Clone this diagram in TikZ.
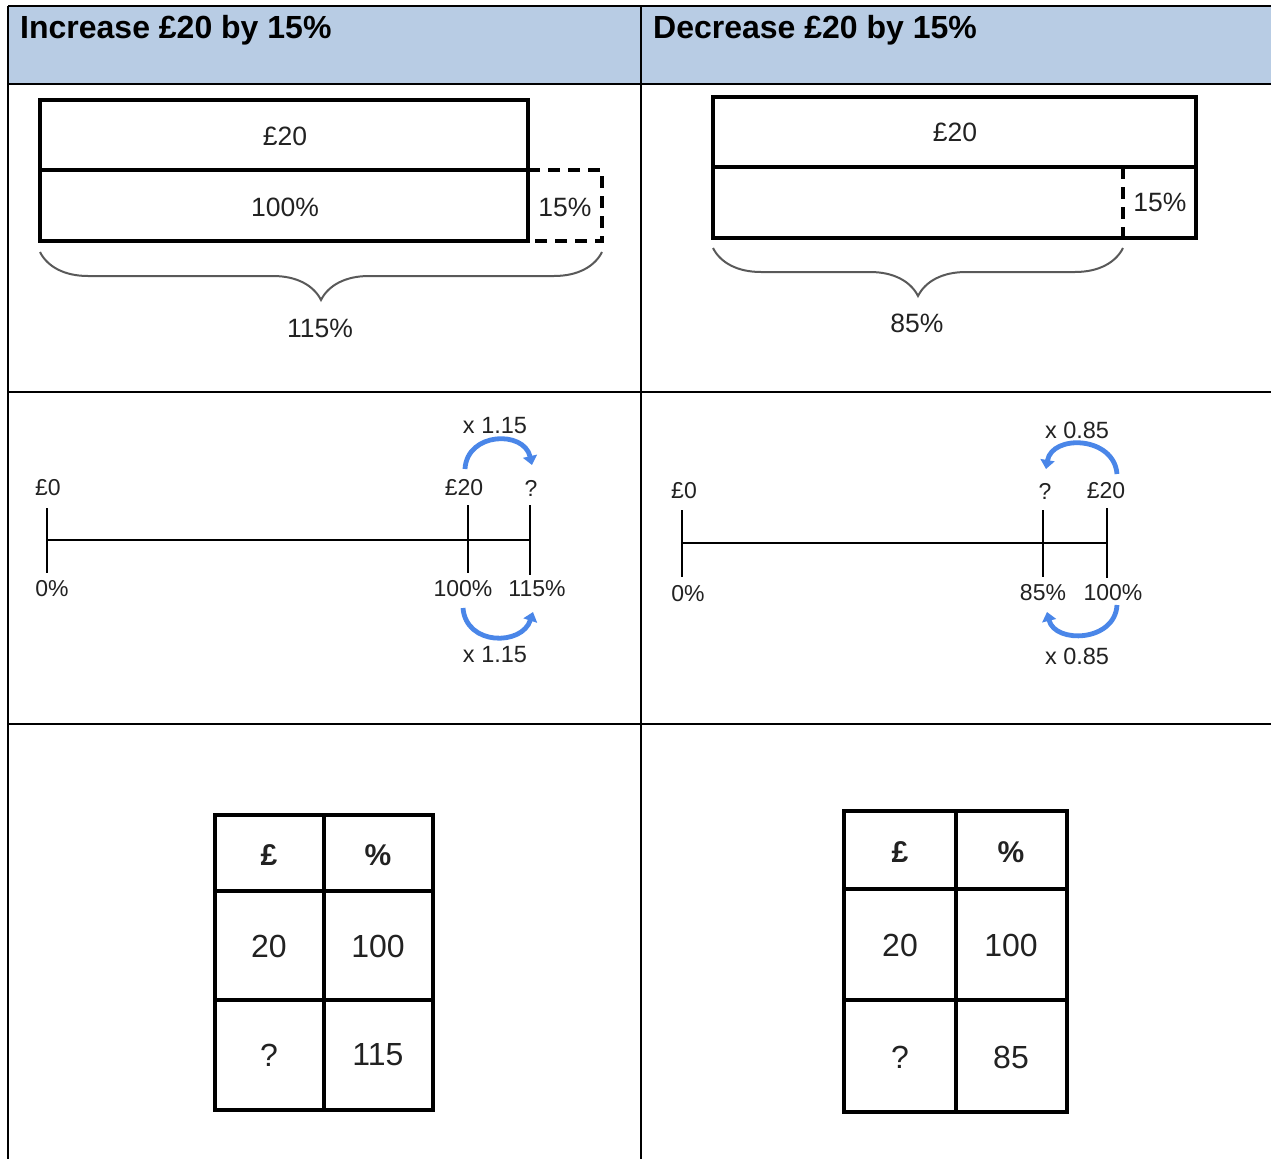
\documentclass[tikz,border=0pt]{standalone}
\usepackage{fontspec}
\setmainfont{Liberation Sans}
\usetikzlibrary{decorations.pathreplacing,arrows.meta}
\definecolor{hdr}{HTML}{B8CCE4}
\definecolor{arr}{HTML}{4A86E8}
\definecolor{txt}{HTML}{222222}
\begin{document}
\begin{tikzpicture}[x=1pt,y=-1pt,
  grid/.style={line width=2.5pt,black},
  boxline/.style={line width=3.2pt,black},
  dashline/.style={line width=3.2pt,black,dash pattern=on 12pt off 8pt},
  bracestyle/.style={line width=2pt,black!65,decorate,decoration={brace,mirror,amplitude=48pt}},
  nline/.style={line width=2.8pt,black},
  curv/.style={line width=4.8pt,arr,-{Triangle[width=14pt,length=9pt]}},
  hdrtext/.style={font=\fontsize{32}{36}\selectfont\bfseries,anchor=base west,inner sep=0pt},
  bartext/.style={font=\fontsize{26.5}{30}\selectfont,text=txt,inner sep=0pt},
  nltext/.style={font=\fontsize{23}{27}\selectfont,text=txt,inner sep=0pt},
  multext/.style={font=\fontsize{23.5}{27}\selectfont,text=txt,inner sep=0pt},
  tabtext/.style={font=\fontsize{32}{36}\selectfont,text=txt,inner sep=0pt},
  tabhead/.style={font=\fontsize{30}{34}\selectfont\bfseries,text=txt,inner sep=0pt}]
\useasboundingbox (0,0) rectangle (1271,1159);
% grid
\fill[hdr] (8,6) rectangle (1271,84);
\draw[grid] (8,6) -- (1271,6);
\draw[grid] (8,84) -- (1271,84);
\draw[grid] (8,392) -- (1271,392);
\draw[grid] (8,724) -- (1271,724);
\draw[grid] (8,6) -- (8,1159);
\draw[grid] (641,6) -- (641,1159);
\node[hdrtext] (h1) at (20,38) {Increase £20 by 15\%};
\node[hdrtext] (h2) at (653,38) {Decrease £20 by 15\%};
% bar model left
\draw[boxline] (40,100) rectangle (528,241);
\draw[boxline] (40,170) -- (528,170);
\draw[dashline] (528,170) -- (602,170) -- (602,241) -- (528,241);
\node[bartext] (l20) at (285,136) {£20};
\node[bartext] (l100) at (285,207) {100\%};
\node[bartext] (l15) at (565,207) {15\%};
\draw[bracestyle] (40,252) -- (602,252);
\node[bartext] (l115) at (320,328) {115\%};
% bar model right
\draw[boxline] (713,97) rectangle (1196,238);
\draw[boxline] (713,167) -- (1196,167);
\draw[dashline] (1123,167) -- (1123,238);
\node[bartext] (r20) at (955,132) {£20};
\node[bartext] (r15) at (1160,202) {15\%};
\draw[bracestyle] (713,248) -- (1123,248);
\node[bartext] (r85) at (917,323) {85\%};
% number line left
\draw[nline] (47,540) -- (530,540);
\draw[nline] (47,508) -- (47,573);
\draw[nline] (468,505) -- (468,573);
\draw[nline] (530,505) -- (530,575);
\node[nltext] (a0) at (48,488) {£0};
\node[nltext] (a0p) at (52,589) {0\%};
\node[nltext] (a20) at (464,488) {£20};
\node[nltext] (aq) at (531,488) {?};
\node[nltext] (a100) at (463,589) {100\%};
\node[nltext] (a115) at (537,589) {115\%};
\node[multext] (am1) at (495,426) {x 1.15};
\node[multext] (am2) at (495,655) {x 1.15};
\coordinate (a1s) at (465,469);
\coordinate (a1e) at (532,465);
\draw[curv] (a1s) .. controls (467,432) and (524,430) .. (a1e);
\coordinate (a2s) at (463,608);
\coordinate (a2e) at (533,612);
\draw[curv] (a2s) .. controls (466,646) and (522,646) .. (a2e);
% number line right
\draw[nline] (682,543) -- (1107,543);
\draw[nline] (682,510) -- (682,577);
\draw[nline] (1043,510) -- (1043,577);
\draw[nline] (1107,508) -- (1107,578);
\node[nltext] (b0) at (684,491) {£0};
\node[nltext] (b0p) at (688,594) {0\%};
\node[nltext] (bq) at (1045,491) {?};
\node[nltext] (b20) at (1106,491) {£20};
\node[nltext] (b85) at (1043,593) {85\%};
\node[nltext] (b100) at (1113,593) {100\%};
\node[multext] (bm1) at (1077,430) {x 0.85};
\node[multext] (bm2) at (1077,656) {x 0.85};
\coordinate (b1s) at (1117,474);
\coordinate (b1e) at (1046,469);
\draw[curv] (b1s) .. controls (1114,436) and (1052,434) .. (b1e);
\coordinate (b2s) at (1117,605);
\coordinate (b2e) at (1047,612);
\draw[curv] (b2s) .. controls (1115,642) and (1055,644) .. (b2e);
% table left
\draw[boxline] (215,815) rectangle (433,1110);
\draw[boxline] (324,815) -- (324,1110);
\draw[boxline] (215,891) -- (433,891);
\draw[boxline] (215,1000) -- (433,1000);
\node[tabhead] (tl1) at (269,855) {£};
\node[tabhead] (tl2) at (378,855) {\%};
\node[tabtext] (tl3) at (269,946) {20};
\node[tabtext] (tl4) at (378,946) {100};
\node[tabtext] (tl5) at (269,1055) {?};
\node[tabtext] (tl6) at (378,1055) {115};
% table right
\draw[boxline] (844,811) rectangle (1067,1112);
\draw[boxline] (956,811) -- (956,1112);
\draw[boxline] (844,889) -- (1067,889);
\draw[boxline] (844,1000) -- (1067,1000);
\node[tabhead] (tr1) at (900,852) {£};
\node[tabhead] (tr2) at (1011,852) {\%};
\node[tabtext] (tr3) at (900,945) {20};
\node[tabtext] (tr4) at (1011,945) {100};
\node[tabtext] (tr5) at (900,1057) {?};
\node[tabtext] (tr6) at (1011,1057) {85};
\end{tikzpicture}
\end{document}
